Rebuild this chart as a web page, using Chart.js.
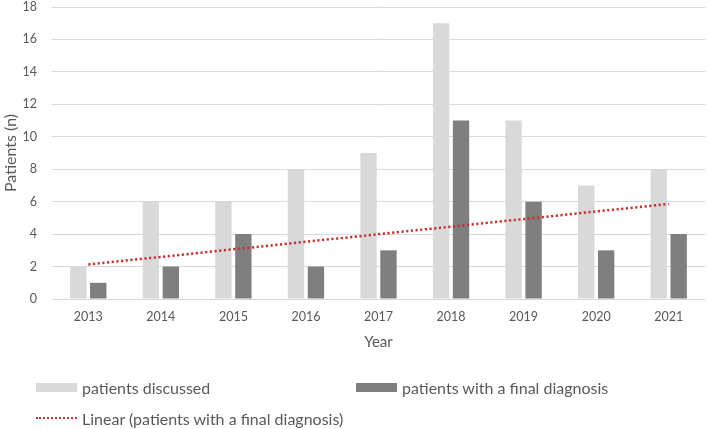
<!DOCTYPE html>
<html>
<head>
<meta charset="utf-8">
<script src="https://cdn.jsdelivr.net/npm/chart.js@4"></script>
<style>
  body { margin: 0; background: #fff; font-family: Lato, sans-serif; }
  #wrap { position: relative; width: 708px; height: 429px; }
  #legend { position: absolute; left: 0; top: 0; width: 708px; height: 429px; pointer-events: none; }
  .item { position: absolute; display: flex; align-items: center; font-size: 16px; color: #595959; white-space: nowrap; }
  .swatch { width: 41px; height: 9px; margin-right: 5px; }
  .dots { width: 41px; height: 0; border-top: 2px dotted #c9302c; margin-right: 5px; }
</style>
</head>
<body>
<div id="wrap">
  <canvas id="chart" width="708" height="429"></canvas>
  <div id="legend"></div>
</div>
<script>
const YEARS = ['2013', '2014', '2015', '2016', '2017', '2018', '2019', '2020', '2021'];
const DISCUSSED = [2, 6, 6, 8, 9, 17, 11, 7, 8];
const FINAL_DIAGNOSIS = [1, 2, 4, 2, 3, 11, 6, 3, 4];
// trendline ends, gaps spanned by one straight segment
const TREND = [2.13, null, null, null, null, null, null, null, 5.86];
const Y_TICKS = [0, 2, 4, 6, 8, 10, 12, 14, 16, 18];

const TEXT_COLOR = '#595959';
const GRID_COLOR = '#d9d9d9';

const chart = new Chart(document.getElementById('chart').getContext('2d'), {
  type: 'bar',
  data: {
    labels: YEARS,
    datasets: [
      {
        label: 'patients discussed',
        data: DISCUSSED,
        backgroundColor: '#d9d9d9',
        categoryPercentage: 0.55,
        barPercentage: 0.82,
        order: 2,
      },
      {
        label: 'patients with a final diagnosis',
        data: FINAL_DIAGNOSIS,
        backgroundColor: '#7f7f7f',
        categoryPercentage: 0.55,
        barPercentage: 0.82,
        order: 2,
      },
      {
        type: 'line',
        label: 'Linear (patients with a final diagnosis)',
        data: TREND,
        borderColor: '#c9302c',
        borderWidth: 2.5,
        borderDash: [2.2, 2.5],
        pointRadius: 0,
        spanGaps: true,
        fill: false,
        order: 0,
      },
    ],
  },
  options: {
    responsive: false,
    animation: false,
    layout: { padding: { top: 7, right: 3, left: 0, bottom: 0 } },
    plugins: {
      legend: { display: false },
      tooltip: { enabled: false },
    },
    scales: {
      x: {
        grid: { display: false, drawTicks: false },
        border: { display: false },
        ticks: { color: TEXT_COLOR, font: { family: 'Lato', size: 12.5 }, padding: 10 },
        title: {
          display: true,
          text: 'Year',
          color: TEXT_COLOR,
          font: { family: 'Lato', size: 15 },
          padding: { top: 0, bottom: 78 },
        },
        afterFit: scale => { scale.height = 130; },
      },
      y: {
        min: 0,
        max: 18,
        afterBuildTicks: scale => { scale.ticks = Y_TICKS.map(v => ({ value: v })); },
        grid: { color: GRID_COLOR, lineWidth: 1, drawTicks: false },
        border: { display: false },
        ticks: { color: TEXT_COLOR, font: { family: 'Lato', size: 12.5 }, padding: 15 },
        title: {
          display: true,
          text: 'Patients (n)',
          color: TEXT_COLOR,
          font: { family: 'Lato', size: 16 },
          padding: { top: 1.5, bottom: 0 },
        },
        afterFit: scale => {
          scale.width = 52;
          // tick padding would otherwise push the plot top down
          scale.paddingTop = 0;
          scale.paddingBottom = 0;
        },
      },
    },
  },
});

// legend laid out like the original: two columns, trendline on its own row
const LEGEND_POS = [
  { left: 36, top: 387.5 },
  { left: 356, top: 387.5 },
  { left: 36, top: 418 },
];
const legend = document.getElementById('legend');
chart.data.datasets.forEach((ds, i) => {
  const item = document.createElement('div');
  item.className = 'item';
  item.style.left = LEGEND_POS[i].left + 'px';
  item.style.top = (LEGEND_POS[i].top - 10) + 'px';
  item.style.height = '20px';
  const mark = document.createElement('span');
  if (ds.type === 'line') {
    mark.className = 'dots';
  } else {
    mark.className = 'swatch';
    mark.style.background = ds.backgroundColor;
  }
  const text = document.createElement('span');
  text.textContent = ds.label;
  item.appendChild(mark);
  item.appendChild(text);
  legend.appendChild(item);
});
</script>
</body>
</html>
